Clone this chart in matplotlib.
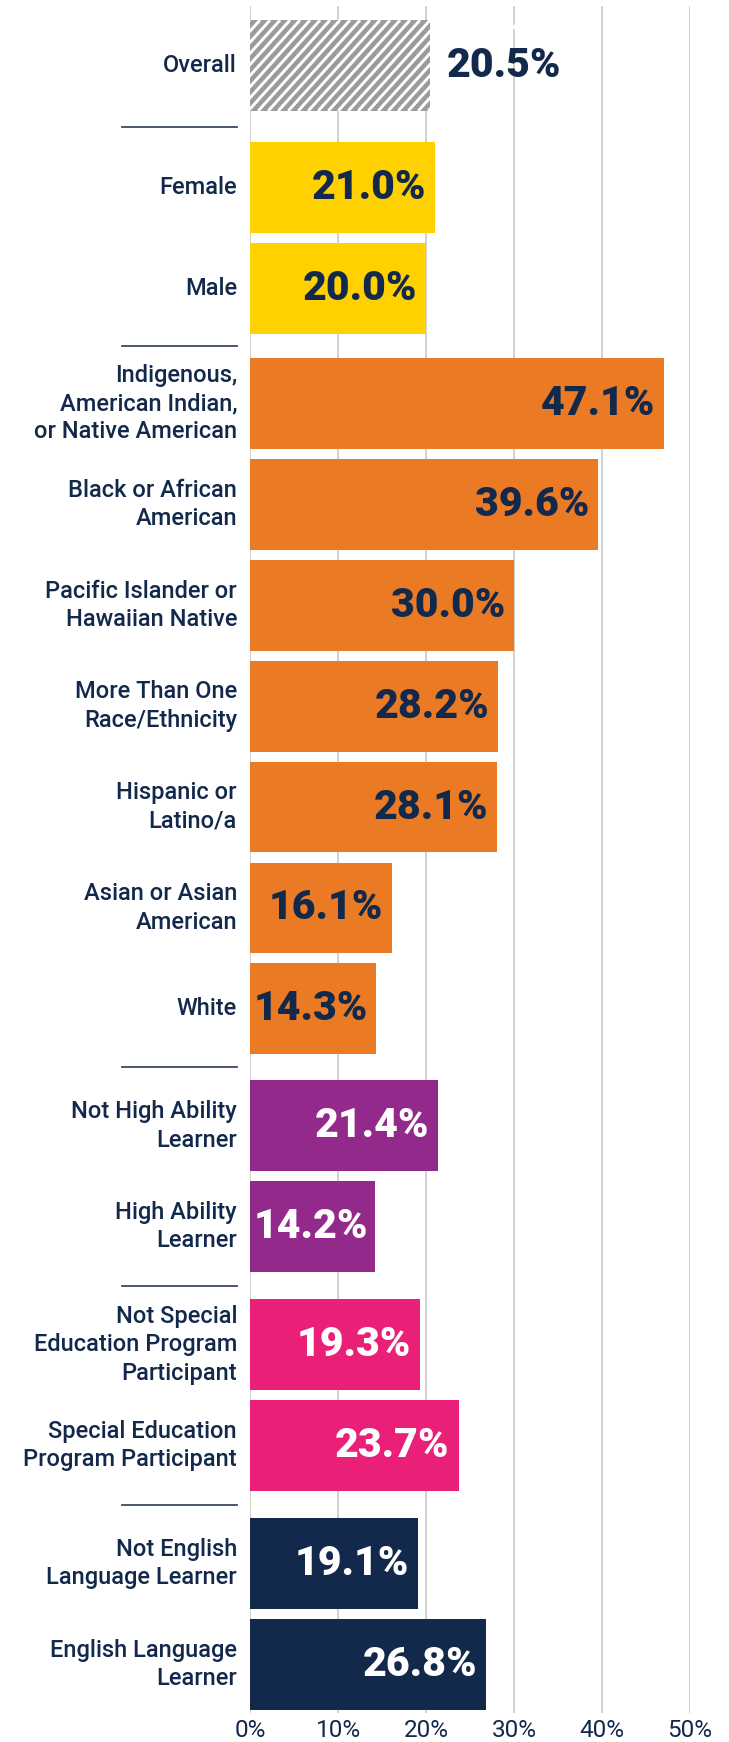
import matplotlib
matplotlib.use("Agg")
import matplotlib.pyplot as plt
import matplotlib.transforms as mtransforms
from matplotlib.collections import LineCollection
import numpy as np

categories = ["Overall", "Female", "Male",
              "Indigenous,\nAmerican Indian,\nor Native American",
              "Black or African\nAmerican",
              "Pacific Islander or\nHawaiian Native",
              "More Than One\nRace/Ethnicity",
              "Hispanic or\nLatino/a",
              "Asian or Asian\nAmerican",
              "White",
              "Not High Ability\nLearner",
              "High Ability\nLearner",
              "Not Special\nEducation Program\nParticipant",
              "Special Education\nProgram Participant",
              "Not English\nLanguage Learner",
              "English Language\nLearner"]
values = [20.5, 21.0, 20.0, 47.1, 39.6, 30.0, 28.2, 28.1, 16.1, 14.3,
          21.4, 14.2, 19.3, 23.7, 19.1, 26.8]
groups = [0, 1, 1, 2, 2, 2, 2, 2, 2, 2, 3, 3, 4, 4, 5, 5]
xticks = [0, 10, 20, 30, 40, 50]
xticklabels = ["0%", "10%", "20%", "30%", "40%", "50%"]

NAVY = "#12294b"
group_colors = {0: "#9b9b9b", 1: "#ffd100", 2: "#eb7a25", 3: "#93298a",
                4: "#e91f78", 5: "#12294b"}
group_text = {0: NAVY, 1: NAVY, 2: NAVY, 3: "white", 4: "white", 5: "white"}
group_gaps = [0.21, 0.14, 0.16, 0.17, 0.17]

W, H = 729, 1742
fig = plt.figure(figsize=(W / 100, H / 100), dpi=100)
ax_left, ax_right = 250 / W, 690 / W
ax_top, ax_bot = 1 - 6 / H, 1 - 1713 / H
ax = fig.add_axes([ax_left, ax_bot, ax_right - ax_left, ax_top - ax_bot])

pos = []
p = 0.0
gi = 0
for i, g in enumerate(groups):
    if i > 0:
        p += 1.0
        if g != groups[i - 1]:
            p += group_gaps[gi]
            gi += 1
    pos.append(p)
pos = np.array(pos)

bars = []
for i, (v, g) in enumerate(zip(values, groups)):
    b = ax.barh(pos[i], v, height=0.9, color=group_colors[g], linewidth=0, zorder=3)
    bars.append(b[0])

ax.set_xlim(0, 50)
ax.set_ylim(pos[-1] + 0.48, pos[0] - 0.59)
ax.set_xticks(xticks)
ax.set_xticklabels(xticklabels, fontsize=17.5, color=NAVY, family="Roboto")
ax.set_yticks(pos)
ax.set_yticklabels([])
ax.tick_params(axis="y", length=0)
ax.tick_params(axis="x", length=0, pad=4)
for s in ax.spines.values():
    s.set_visible(False)
ax.xaxis.grid(True, color="#c8c8c8", linewidth=1.2, zorder=0)
ax.set_axisbelow(True)

# category labels (right-aligned, left of the axes)
lab_trans = mtransforms.blended_transform_factory(fig.transFigure, ax.transData)
for i, c in enumerate(categories):
    ax.text(237 / W, pos[i], c, transform=lab_trans, ha="right", va="center",
            multialignment="right", fontsize=17, color=NAVY, family="Roboto",
            fontweight="medium", linespacing=1.3, clip_on=False)

# group separators
for i in range(1, len(groups)):
    if groups[i] != groups[i - 1]:
        ymid = (pos[i] + pos[i - 1]) / 2
        ax.plot([122 / W, 237 / W], [ymid, ymid], transform=lab_trans, color="#3a4a68",
                linewidth=1.3, clip_on=False)

fig.canvas.draw()
renderer = fig.canvas.get_renderer()

# white diagonal stripes on the Overall bar (hatching)
for i, g in enumerate(groups):
    if g != 0:
        continue
    bb = bars[i].get_window_extent(renderer)
    period, ang = 10.0, np.deg2rad(48)
    run = bb.height / np.tan(ang)
    segs = []
    x = bb.x0 - run - period
    while x < bb.x1 + period:
        segs.append([(x, bb.y0), (x + run, bb.y1)])
        x += period
    lc = LineCollection(segs, colors="white", linewidths=2.1,
                        transform=mtransforms.IdentityTransform(), zorder=4)
    lc.set_clip_path(bars[i])
    ax.add_collection(lc, autolim=False)

px_per_unit = ax.transData.transform((1, 0))[0] - ax.transData.transform((0, 0))[0]
x0 = ax.transData.transform((0, 0))[0]
for i, (v, g) in enumerate(zip(values, groups)):
    label = f"{v:.1f}%"
    if g == 0:
        ax.text(v + 16 / px_per_unit, pos[i], label, ha="left", va="center",
                fontsize=29.5, fontweight="black", family="Roboto", color=NAVY, zorder=5)
    else:
        t = ax.text(v - 9 / px_per_unit, pos[i], label, ha="right", va="center",
                    fontsize=29.5, fontweight="black", family="Roboto",
                    color=group_text[g], zorder=5)
        tb = t.get_window_extent(renderer)
        if tb.x0 < x0 + 3:
            t.set_ha("left")
            t.set_x(4 / px_per_unit)

fig.savefig("out.png", dpi=100)
